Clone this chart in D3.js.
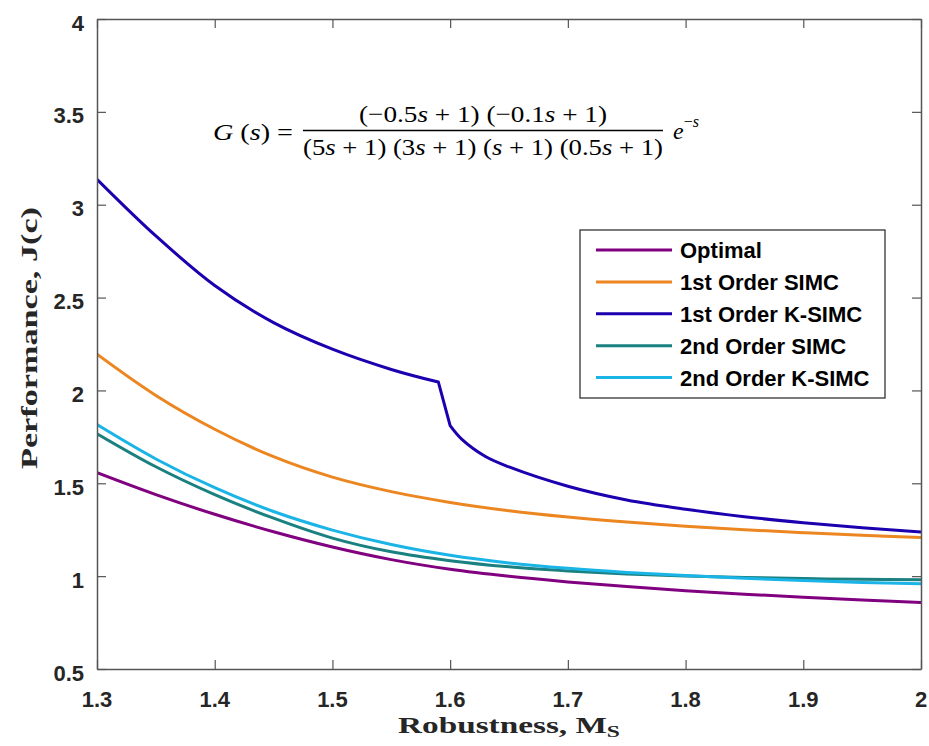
<!DOCTYPE html>
<html><head><meta charset="utf-8">
<script src="https://cdn.jsdelivr.net/npm/d3@7"></script>
<style>body{margin:0;background:#fff}</style>
</head><body><svg id="c" width="929" height="746"></svg>
<script>
// ---- data ----
const ms = [1.30,1.35,1.40,1.45,1.50,1.55,1.60,1.65,1.70,1.75,1.80,1.85,1.90,1.95,2.00];
const optimal  = [1.557,1.439,1.333,1.239,1.157,1.089,1.037,0.999,0.969,0.944,0.922,0.903,0.886,0.871,0.858];
const simc1st  = [2.195,1.973,1.791,1.643,1.533,1.455,1.397,1.352,1.318,1.291,1.269,1.250,1.234,1.220,1.208];
const simc2nd  = [1.767,1.589,1.439,1.312,1.205,1.131,1.083,1.050,1.028,1.012,1.001,0.993,0.987,0.983,0.981];
const ksimc2nd = [1.816,1.631,1.476,1.348,1.248,1.170,1.112,1.071,1.042,1.020,1.003,0.988,0.976,0.966,0.959];
// 1st order K-SIMC has a kink: the curve up to 1.59, a steep drop, then the curve after 1.60
const msK1     = [1.30,1.35,1.40,1.45,1.50,1.55,1.59,1.60,1.61,1.63,1.65,1.70,1.75,1.80,1.85,1.90,1.95,2.00];
const ksimc1st = [3.137,2.832,2.565,2.365,2.222,2.113,2.045,1.810,1.736,1.644,1.588,1.484,1.410,1.360,1.320,1.288,1.261,1.237];
const ksimcBreaks = [6,7]; // indices where the curve has corners
const xTicks = [1.3,1.4,1.5,1.6,1.7,1.8,1.9,2.0];
const yTicks = [0.5,1,1.5,2,2.5,3,3.5,4];
const names = ["Optimal","1st Order SIMC","1st Order K-SIMC","2nd Order SIMC","2nd Order K-SIMC"];
const colors = ["#800080","#EC8621","#1C00B0","#1A8080","#1BB4E6"];

const series = [
  {name:names[0], color:colors[0], xs:ms, ys:optimal, breaks:[]},
  {name:names[1], color:colors[1], xs:ms, ys:simc1st, breaks:[]},
  {name:names[2], color:colors[2], xs:msK1, ys:ksimc1st, breaks:ksimcBreaks},
  {name:names[3], color:colors[3], xs:ms, ys:simc2nd, breaks:[]},
  {name:names[4], color:colors[4], xs:ms, ys:ksimc2nd, breaks:[]}
];

const svg = d3.select("#c");
const L=97, R=921, T=19, B=669;
const x = d3.scaleLinear().domain([1.3,2]).range([L,R]);
const y = d3.scaleLinear().domain([0.5,4]).range([B,T]);
const sans = "'Liberation Sans', Arial, sans-serif";
const serif = "'Liberation Serif', 'Times New Roman', serif";
const axisCol = "#555", textCol = "#262626";

svg.append("rect").attr("width",929).attr("height",746).attr("fill","#fff");
svg.append("defs").append("clipPath").attr("id","clip")
  .append("rect").attr("x",L).attr("y",T).attr("width",R-L).attr("height",B-T);

// curves: smooth pieces between corner indices
const smooth = d3.line().curve(d3.curveCatmullRom.alpha(0.5));
const gl = svg.append("g").attr("clip-path","url(#clip)");
series.forEach(s=>{
  const pts = s.xs.map((v,i)=>[x(v), y(s.ys[i])]);
  const cuts = [0, ...s.breaks, pts.length-1];
  let d = "";
  for(let k=0;k<cuts.length-1;k++){
    const seg = pts.slice(cuts[k], cuts[k+1]+1);
    const p = seg.length>2 ? smooth(seg) : d3.line()(seg);
    d += (k===0 ? p : "L" + p.slice(1));
  }
  gl.append("path").attr("d", d)
    .attr("fill","none").attr("stroke",s.color).attr("stroke-width",3)
    .attr("stroke-linejoin","round");
});

// axes box with inward ticks
const tl = 9;
function styleAx(g){
  g.selectAll("path.domain").attr("stroke",axisCol).attr("stroke-width",1.5);
  g.selectAll(".tick line").attr("stroke",axisCol).attr("stroke-width",1.2);
}
svg.append("g").attr("transform",`translate(0,${B})`)
  .call(d3.axisTop(x).tickValues(xTicks).tickSize(tl).tickSizeOuter(0).tickFormat(()=>"")).call(styleAx);
svg.append("g").attr("transform",`translate(0,${T})`)
  .call(d3.axisBottom(x).tickValues(xTicks).tickSize(tl).tickSizeOuter(0).tickFormat(()=>"")).call(styleAx);
svg.append("g").attr("transform",`translate(${L},0)`)
  .call(d3.axisRight(y).tickValues(yTicks).tickSize(tl).tickSizeOuter(0).tickFormat(()=>"")).call(styleAx);
svg.append("g").attr("transform",`translate(${R},0)`)
  .call(d3.axisLeft(y).tickValues(yTicks).tickSize(tl).tickSizeOuter(0).tickFormat(()=>"")).call(styleAx);

// tick labels
svg.append("g").selectAll("text").data(xTicks).join("text")
  .attr("x",d=>x(d)).attr("y",B+38).attr("text-anchor","middle")
  .attr("font-family",sans).attr("font-weight","bold").attr("font-size",22).attr("fill",textCol)
  .text(d=>d3.format("")(d));
svg.append("g").selectAll("text").data(yTicks).join("text")
  .attr("x",L-13).attr("y",d=>y(d)+11.5).attr("text-anchor","end")
  .attr("font-family",sans).attr("font-weight","bold").attr("font-size",22).attr("fill",textCol)
  .text(d=>d3.format("")(d));

// axis titles
const xl = svg.append("text").attr("x",(L+R)/2).attr("y",733).attr("text-anchor","middle")
  .attr("font-family",serif).attr("font-weight","bold").attr("font-size",24).attr("fill",textCol)
  .attr("textLength",222).attr("lengthAdjust","spacingAndGlyphs");
xl.append("tspan").text("Robustness, M");
xl.append("tspan").attr("font-size",17).attr("dy",4).text("S");

svg.append("text").attr("transform",`translate(37,338) rotate(-90)`).attr("text-anchor","middle")
  .attr("font-family",serif).attr("font-weight","bold").attr("font-size",24).attr("fill",textCol)
  .attr("textLength",262).attr("lengthAdjust","spacingAndGlyphs")
  .text("Performance, J(c)");

// legend
const lg = svg.append("g");
lg.append("rect").attr("x",580).attr("y",230).attr("width",305).attr("height",168)
  .attr("fill","#fff").attr("stroke","#333").attr("stroke-width",1.3);
series.forEach((s,i)=>{
  const cy = 250 + i*31.9;
  lg.append("line").attr("x1",596).attr("x2",672).attr("y1",cy).attr("y2",cy)
    .attr("stroke",s.color).attr("stroke-width",3);
  lg.append("text").attr("x",680).attr("y",cy+8).attr("font-family",sans).attr("font-weight","bold")
    .attr("font-size",22).attr("fill","#000").text(s.name);
});

// equation
const eq = svg.append("g").attr("font-family",serif).attr("font-size",24).attr("fill","#000");
const g1 = eq.append("text").attr("x",213).attr("y",140)
  .attr("textLength",80).attr("lengthAdjust","spacingAndGlyphs");
g1.append("tspan").attr("font-style","italic").text("G");
g1.append("tspan").text(" (");
g1.append("tspan").attr("font-style","italic").text("s");
g1.append("tspan").text(") =");

const num = eq.append("text").attr("x",483).attr("y",122).attr("text-anchor","middle")
  .attr("textLength",248).attr("lengthAdjust","spacingAndGlyphs");
[["(−0.5",0],["s",1],[" + 1) (−0.1",0],["s",1],[" + 1)",0]].forEach(p=>{
  num.append("tspan").attr("font-style",p[1]?"italic":"normal").text(p[0]);
});
eq.append("line").attr("x1",303).attr("x2",663).attr("y1",130.5).attr("y2",130.5)
  .attr("stroke","#000").attr("stroke-width",1.4);
const den = eq.append("text").attr("x",483).attr("y",155).attr("text-anchor","middle")
  .attr("textLength",360).attr("lengthAdjust","spacingAndGlyphs");
[["(5",0],["s",1],[" + 1) (3",0],["s",1],[" + 1) (",0],["s",1],[" + 1) (0.5",0],["s",1],[" + 1)",0]].forEach(p=>{
  den.append("tspan").attr("font-style",p[1]?"italic":"normal").text(p[0]);
});
const ex = eq.append("text").attr("x",673).attr("y",139);
ex.append("tspan").attr("font-style","italic").text("e");
ex.append("tspan").attr("font-size",16).attr("dy",-12).text("−");
ex.append("tspan").attr("font-size",16).attr("font-style","italic").text("s");
</script>
</body></html>
